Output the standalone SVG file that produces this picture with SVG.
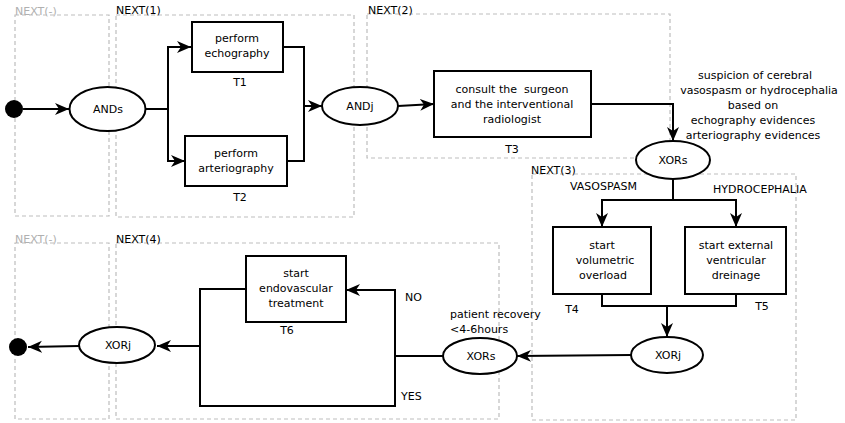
<svg xmlns="http://www.w3.org/2000/svg" width="845" height="423" viewBox="0 0 845 423">
<defs>
<style>
.lane{fill:none;stroke:#bdbdbd;stroke-width:1.2;stroke-dasharray:4,3}
.lbl{font-family:"DejaVu Sans","Liberation Sans",sans-serif;font-size:11px;fill:#000}
.lblg{font-family:"DejaVu Sans","Liberation Sans",sans-serif;font-size:11px;fill:#b0b0b0}
.box{fill:#fff;stroke:#000;stroke-width:2}
.gw{fill:#fff;stroke:#000;stroke-width:2}
.c{fill:none;stroke:#000;stroke-width:2}
.ctr{text-anchor:middle}
.pre{white-space:pre}
</style>
<marker id="ar" markerWidth="16" markerHeight="14" refX="14" refY="7" orient="auto" markerUnits="userSpaceOnUse">
<path d="M14,7 L0,1 L4,7 L0,13 Z" fill="#000"/>
</marker>
</defs>
<rect width="845" height="423" fill="#fff"/>
<g id="lanes">
<rect class="lane" x="15" y="15" width="94" height="201"/>
<rect class="lane" x="116" y="15" width="238" height="202"/>
<rect class="lane" x="367" y="14" width="303" height="144"/>
<rect class="lane" x="532" y="174" width="264" height="246"/>
<rect class="lane" x="15" y="243" width="94" height="176"/>
<rect class="lane" x="116" y="243" width="383" height="176"/>
<text class="lblg" x="15" y="15">NEXT(-)</text>
<text class="lbl" x="116" y="14">NEXT(1)</text>
<text class="lbl" x="368" y="14">NEXT(2)</text>
<text class="lbl" x="531" y="174">NEXT(3)</text>
<text class="lblg" x="15" y="243">NEXT(-)</text>
<text class="lbl" x="116" y="243">NEXT(4)</text>
</g>
<g id="connectors">
<polyline class="c" points="23,109 69,109" marker-end="url(#ar)"/>
<polyline class="c" points="146,109 168,109 168,47 191,47" marker-end="url(#ar)"/>
<polyline class="c" points="168,109 168,161 185,161" marker-end="url(#ar)"/>
<polyline class="c" points="283,47 304,47 304,106 322,106" marker-end="url(#ar)"/>
<polyline class="c" points="287,161 304,161 304,106"/>
<polyline class="c" points="398,106 434,104" marker-end="url(#ar)"/>
<polyline class="c" points="591,104 673,104 673,141" marker-end="url(#ar)"/>
<polyline class="c" points="673,179 673,200 602,200 602,227" marker-end="url(#ar)"/>
<polyline class="c" points="673,200 736,200 736,227" marker-end="url(#ar)"/>
<polyline class="c" points="602,294 602,306 667,306 667,337" marker-end="url(#ar)"/>
<polyline class="c" points="736,294 736,306 667,306"/>
<polyline class="c" points="631,355 517,356" marker-end="url(#ar)"/>
<polyline class="c" points="443,356 395,356 395,290 346,290" marker-end="url(#ar)"/>
<polyline class="c" points="395,356 395,406 200,406 200,346"/>
<polyline class="c" points="246,289 200,289 200,346 157,346" marker-end="url(#ar)"/>
<polyline class="c" points="79,346 28,347" marker-end="url(#ar)"/>
<text class="lbl" x="570" y="190">VASOSPASM</text>
<text class="lbl" x="713" y="193">HYDROCEPHALIA</text>
<text class="lbl" x="405" y="301">NO</text>
<text class="lbl" x="401" y="400">YES</text>
<text class="lbl" x="450" y="318">patient recovery</text>
<text class="lbl" x="450" y="333">&lt;4-6hours</text>
<text class="lbl ctr" x="755" y="79">suspicion of cerebral</text>
<text class="lbl ctr" x="759" y="94">vasospasm or hydrocephalia</text>
<text class="lbl ctr" x="753" y="109">based on</text>
<text class="lbl ctr" x="753" y="124">echography evidences</text>
<text class="lbl ctr" x="753" y="139">arteriography evidences</text>
</g>
<g id="start"><circle cx="14" cy="109" r="9" fill="#000"/></g>
<g id="ANDs"><ellipse class="gw" cx="107.5" cy="109" rx="38" ry="22"/><text class="lbl ctr" x="108" y="113">ANDs</text></g>
<g id="T1"><rect class="box" x="192" y="22" width="91" height="50"/><text class="lbl ctr" x="237" y="42">perform</text><text class="lbl ctr" x="237" y="57">echography</text><text class="lbl ctr" x="240" y="86">T1</text></g>
<g id="T2"><rect class="box" x="185" y="136" width="102" height="50"/><text class="lbl ctr" x="236" y="157">perform</text><text class="lbl ctr" x="236" y="172">arteriography</text><text class="lbl ctr" x="240" y="201">T2</text></g>
<g id="ANDj"><ellipse class="gw" cx="360" cy="106" rx="38" ry="19"/><text class="lbl ctr" x="360" y="110">ANDj</text></g>
<g id="T3"><rect class="box" x="434" y="71" width="157" height="66"/><text class="lbl ctr pre" x="512" y="93" xml:space="preserve">consult the  surgeon</text><text class="lbl ctr" x="512" y="108">and the interventional</text><text class="lbl ctr" x="512" y="123">radiologist</text><text class="lbl ctr" x="512" y="153">T3</text></g>
<g id="XORs1"><ellipse class="gw" cx="673" cy="160" rx="37" ry="19"/><text class="lbl ctr" x="673" y="164">XORs</text></g>
<g id="T4"><rect class="box" x="553" y="227" width="98" height="67"/><text class="lbl ctr" x="602" y="249">start</text><text class="lbl ctr" x="605" y="264">volumetric</text><text class="lbl ctr" x="603" y="279">overload</text><text class="lbl ctr" x="572" y="313">T4</text></g>
<g id="T5"><rect class="box" x="685" y="227" width="101" height="67"/><text class="lbl ctr" x="736" y="249">start external</text><text class="lbl ctr" x="736" y="264">ventricular</text><text class="lbl ctr" x="736" y="279">dreinage</text><text class="lbl ctr" x="762" y="310">T5</text></g>
<g id="XORj1"><ellipse class="gw" cx="667" cy="355" rx="36" ry="18"/><text class="lbl ctr" x="668" y="359">XORj</text></g>
<g id="XORs2"><ellipse class="gw" cx="480" cy="356" rx="37" ry="18"/><text class="lbl ctr" x="481" y="360">XORs</text></g>
<g id="T6"><rect class="box" x="246" y="256" width="100" height="66"/><text class="lbl ctr" x="296" y="277">start</text><text class="lbl ctr" x="296" y="292">endovascular</text><text class="lbl ctr" x="296" y="307">treatment</text><text class="lbl ctr" x="287" y="334">T6</text></g>
<g id="XORj2"><ellipse class="gw" cx="117" cy="345" rx="38" ry="18"/><text class="lbl ctr" x="118" y="349">XORj</text></g>
<g id="end"><circle cx="18" cy="347" r="9" fill="#000"/></g>
</svg>
